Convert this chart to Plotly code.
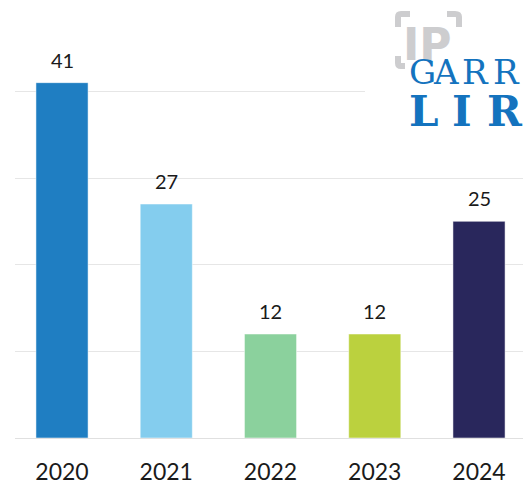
import plotly.graph_objects as go

# Data
years = ["2020", "2021", "2022", "2023", "2024"]
counts = [41, 27, 12, 12, 25]
bar_colors = ["#1F7EC2", "#84CDEE", "#8BD19D", "#BBD13E", "#29275C"]

W, H = 525, 488
M_L, M_R, M_T, M_B = 15, 2, 48, 50
Y_MAX = 45


def px(x):
    """pixel x -> paper x"""
    return (x - M_L) / (W - M_L - M_R)


def py(y):
    """pixel y -> paper y"""
    return (H - M_B - y) / (H - M_T - M_B)


fig = go.Figure(
    go.Bar(
        x=years,
        y=counts,
        marker_color=bar_colors,
        marker_line=dict(color="rgba(255,255,255,0.5)", width=1),
        width=0.5,
        hoverinfo="skip",
    )
)

# value labels above each bar (category index used for x)
for i, v in enumerate(counts):
    fig.add_annotation(
        x=i, y=v, text=str(v), showarrow=False, yanchor="bottom", yshift=9,
        font=dict(family="Lato", size=20, color="#1a1a1a"),
    )

# logo: white backing box that hides the gridline behind it
shapes = [
    dict(type="rect", xref="paper", yref="paper", x0=px(365), x1=px(530),
         y0=py(140), y1=py(-5), fillcolor="white", line_width=0, layer="above"),
]
grey = "#CDCDCF"
corner_paths = [
    f"M {px(398)},{py(27)} L {px(398)},{py(17)} Q {px(398)},{py(14)} {px(401)},{py(14)} L {px(410)},{py(14)}",
    f"M {px(447)},{py(14)} L {px(455)},{py(14)} Q {px(459)},{py(14)} {px(459)},{py(17)} L {px(459)},{py(27)}",
    f"M {px(398)},{py(56)} L {px(398)},{py(63)} Q {px(398)},{py(66)} {px(401)},{py(66)} L {px(405)},{py(66)}",
]
for p in corner_paths:
    shapes.append(dict(type="path", path=p, xref="paper", yref="paper",
                       line=dict(color=grey, width=6), layer="above"))
fig.update_layout(shapes=shapes)


def logo_text(cx, cy, text, family, size, color):
    fig.add_annotation(x=px(cx), y=py(cy), xref="paper", yref="paper", text=text,
                       xanchor="center", yanchor="middle", showarrow=False,
                       font=dict(family=family, size=size, color=color))


logo_text(427, 44, "<b>IP</b>", "DejaVu Sans", 44, grey)

blue = "#1473BE"
for ch, cx in zip("GARR", [422, 446, 475, 506]):
    logo_text(cx, 72, ch, "DejaVu Serif", 34, blue)
for ch, cx in zip("LIR", [424, 462, 505]):
    logo_text(cx, 112, f"<b>{ch}</b>", "DejaVu Serif", 42, blue)

fig.update_layout(
    width=W, height=H,
    margin=dict(l=M_L, r=M_R, t=M_T, b=M_B),
    plot_bgcolor="white", paper_bgcolor="white",
    showlegend=False,
    font=dict(family="Lato", color="#1a1a1a"),
)
fig.update_xaxes(
    type="category",
    range=[-0.451, 4.422], showgrid=False, ticks="",
    ticklabelstandoff=18, tickfont=dict(size=23),
)
fig.update_yaxes(
    range=[0, Y_MAX], dtick=10, showticklabels=False,
    showgrid=True, gridcolor="#E6E6E6", gridwidth=1,
    zeroline=True, zerolinecolor="#E0E0E0", zerolinewidth=1,
)

fig.write_html("out.html", config={"displayModeBar": False},
               post_script="document.body.style.margin='0';")
